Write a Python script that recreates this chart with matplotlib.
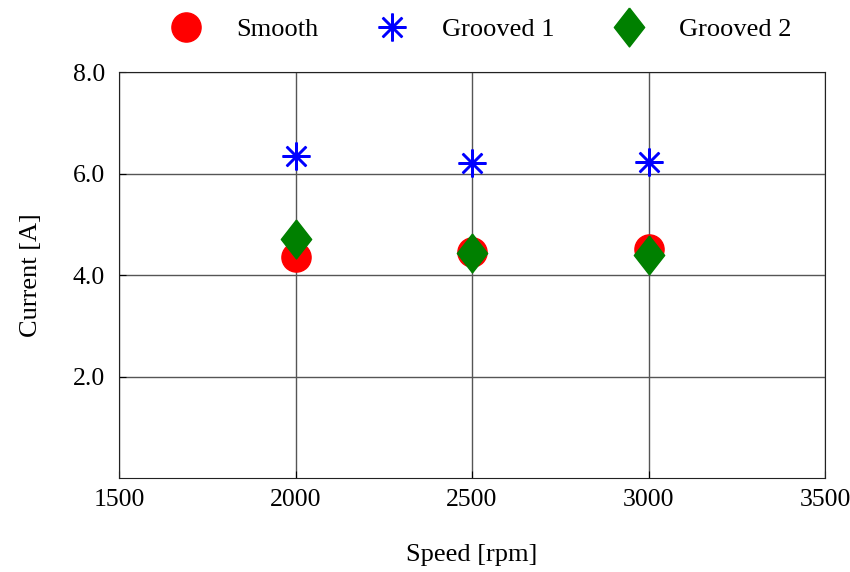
import matplotlib.pyplot as plt
import numpy as np

speed = [2000, 2500, 3000]
smooth = [4.36, 4.46, 4.52]
grooved1 = [6.34, 6.21, 6.23]
grooved2 = [4.72, 4.44, 4.39]

plt.rcParams['font.family'] = ['Liberation Serif', 'DejaVu Serif']

fig = plt.figure(figsize=(8.5, 5.72), dpi=100)
ax = fig.add_axes([0.14, 0.1643, 0.8306, 0.7097])

# diamond a little narrower than tall
diamond = [(0, 1), (0.78, 0), (0, -1), (-0.78, 0), (0, 1)]

ax.plot(speed, smooth, linestyle='none', marker='o', markersize=21,
        color='#ff0000', label='Smooth', zorder=3)
ax.plot(speed, grooved1, linestyle='none', marker=(8, 2, 0), markersize=20,
        markeredgewidth=1.8, color='#0000ff', label='Grooved 1', zorder=3)
ax.plot(speed, grooved2, linestyle='none', marker=diamond, markersize=28,
        color='#008000', label='Grooved 2', zorder=4)

ax.set_xlim(1500, 3500)
ax.set_ylim(0, 8)
ax.set_xticks([1500, 2000, 2500, 3000, 3500])
ax.set_yticks([2, 4, 6, 8])
ax.set_yticklabels(['2.0', '4.0', '6.0', '8.0'])
ax.grid(True, color='#555555', linewidth=1)
ax.set_axisbelow(True)
ax.tick_params(direction='in', length=5, labelsize=18.5)
ax.tick_params(axis='x', pad=8)
ax.tick_params(axis='y', pad=10)
for s in ax.spines.values():
    s.set_color('#222222')

ax.set_xlabel('Speed [rpm]', fontsize=19, labelpad=24)
ax.set_ylabel('Current [A]', fontsize=19, labelpad=22)

ax.legend(loc='center', bbox_to_anchor=(0.505, 1.105), ncol=3, frameon=False,
          fontsize=19, handletextpad=0.9, columnspacing=1.8)

fig.savefig('out.png', dpi=100)
